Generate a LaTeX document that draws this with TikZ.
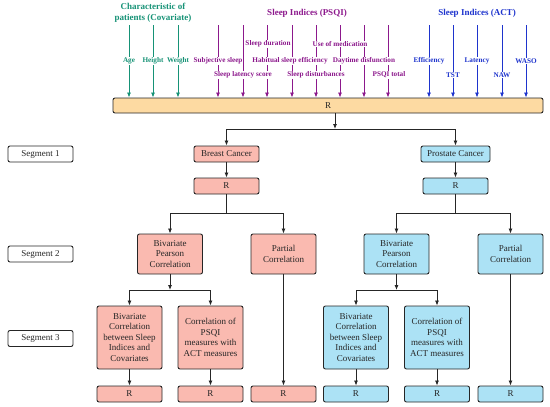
\documentclass[tikz,border=0pt]{standalone}
\usepackage{fontspec}
\setmainfont{Liberation Serif}
\usetikzlibrary{arrows.meta}
\definecolor{cgreen}{RGB}{22,146,118}
\definecolor{cpurple}{RGB}{140,24,140}
\definecolor{cblueT}{RGB}{30,52,205}
\definecolor{corange}{RGB}{253,218,162}
\definecolor{cpink}{RGB}{250,186,176}
\definecolor{cblue}{RGB}{172,226,245}
\begin{document}
\begin{tikzpicture}[x=1pt,y=-1pt,
 box/.style={draw=black!85, line width=0.9pt, rounded corners=2pt, align=center,
   font=\fontsize{9}{10.5}\selectfont, inner sep=1pt, text=black!85},
 pinkbox/.style={box, fill=cpink},
 bluebox/.style={box, fill=cblue},
 small/.style={minimum width=65pt, minimum height=16pt},
 mid/.style={minimum width=65pt, minimum height=40pt},
 tall/.style={minimum width=65pt, minimum height=63pt},
 seg/.style={box, fill=white, small},
 arr/.style={-{Latex[length=5pt,width=4pt]}, line width=0.8pt, draw=black!85},
 plain/.style={line width=0.8pt, draw=black!85},
 inarr/.style={-{Latex[length=5pt,width=4pt]}, line width=0.8pt},
 lab/.style={fill=white, inner sep=0.8pt, font=\fontsize{7.2}{8}\selectfont\bfseries},
 ttl/.style={align=center, font=\fontsize{9}{11}\selectfont\bfseries}
]
\useasboundingbox (0,0) rectangle (550,407);

% big R box
\node[box, fill=corange, minimum width=430pt, minimum height=15pt] (big) at (328,105.5) {R};

% titles
\node[ttl, text=cgreen] (tcov) at (153,12.5) {Characteristic of\\patients (Covariate)};
\node[ttl, text=cpurple] (tpsqi) at (307,13) {Sleep Indices (PSQI)};
\node[ttl, text=cblueT] (tact) at (477,13) {Sleep Indices (ACT)};

% input arrows
\foreach \x/\c in {129/cgreen,153/cgreen,178/cgreen,
  218/cpurple,243/cpurple,267/cpurple,292/cpurple,316/cpurple,340/cpurple,364/cpurple,388/cpurple,
  429/cblueT,453/cblueT,477/cblueT,502/cblueT,526/cblueT}{
  \coordinate (t\x) at (\x,25);
  \draw[inarr,\c] (t\x) -- (t\x |- big.north);
}

% input labels
\node[lab,text=cgreen] (lage) at (129,61) {Age};
\node[lab,text=cgreen] (lhei) at (153,61) {Height};
\node[lab,text=cgreen] (lwei) at (178,61) {Weight};

\node[lab,text=cpurple] (lsub) at (218,61) {Subjective sleep};
\node[lab,text=cpurple] (lhab) at (290,61) {Habitual sleep efficiency};
\node[lab,text=cpurple] (lday) at (364,61) {Daytime disfunction};
\node[lab,text=cpurple] (ldur) at (268,44) {Sleep duration};
\node[lab,text=cpurple] (lmed) at (340,44) {Use of medication};
\node[lab,text=cpurple] (llat) at (243,75) {Sleep latency score};
\node[lab,text=cpurple] (ldis) at (316,75) {Sleep disturbances};
\node[lab,text=cpurple] (ltot) at (389,75) {PSQI total};

\node[lab,text=cblueT] (leff) at (429,61) {Efficiency};
\node[lab,text=cblueT] (ltst) at (453,75) {TST};
\node[lab,text=cblueT] (llt) at (477,61) {Latency};
\node[lab,text=cblueT] (lnaw) at (502,75) {NAW};
\node[lab,text=cblueT] (lwas) at (526,61) {WASO};

% segments
\node[seg] (s1) at (40.5,154) {Segment 1};
\node[seg] (s2) at (40.5,254) {Segment 2};
\node[seg] (s3) at (40.5,338.5) {Segment 3};

% segment 1
\node[pinkbox, small] (bc) at (226.5,154) {Breast Cancer};
\node[pinkbox, small] (rb) at (226.5,186) {R};
\node[bluebox, small, minimum width=69pt] (pc) at (455.5,154) {Prostate Cancer};
\node[bluebox, small] (rp) at (455.5,186) {R};

% segment 2
\node[pinkbox, mid] (bbiv) at (170,254) {Bivariate\\Pearson\\Correlation};
\node[pinkbox, mid] (bpar) at (283.5,254) {Partial\\Correlation};
\node[bluebox, mid] (pbiv) at (396.5,254) {Bivariate\\Pearson\\Correlation};
\node[bluebox, mid] (ppar) at (510.5,254) {Partial\\Correlation};

% segment 3
\node[pinkbox, tall] (bcov) at (129.5,337.5) {Bivariate\\Correlation\\between Sleep\\Indices and\\Covariates};
\node[pinkbox, tall] (bact) at (210.5,337.5) {Correlation of\\PSQI\\measures with\\ACT measures};
\node[bluebox, tall] (pcov) at (356,337.5) {Bivariate\\Correlation\\between Sleep\\Indices and\\Covariates};
\node[bluebox, tall] (pact) at (437,337.5) {Correlation of\\PSQI\\measures with\\ACT measures};

% bottom R
\node[pinkbox, small] (r1) at (129.5,394) {R};
\node[pinkbox, small] (r2) at (210.5,394) {R};
\node[pinkbox, small] (r3) at (283.5,394) {R};
\node[bluebox, small] (r4) at (356,394) {R};
\node[bluebox, small] (r5) at (437,394) {R};
\node[bluebox, small] (r6) at (510.5,394) {R};

% connectors
\coordinate (j1) at (335,129);
\draw[arr] (big.south -| j1) -- (j1);
\draw[arr] (j1) -| (bc.north);
\draw[arr] (j1) -| (pc.north);

\draw[arr] (bc) -- (rb);
\draw[arr] (pc) -- (rp);

\coordinate (j2) at (226.5,213);
\draw[plain] (rb.south) -- (j2);
\draw[arr] (j2) -| (bbiv.north);
\draw[arr] (j2) -| (bpar.north);

\coordinate (j3) at (455.5,213);
\draw[plain] (rp.south) -- (j3);
\draw[arr] (j3) -| (pbiv.north);
\draw[arr] (j3) -| (ppar.north);

\coordinate (j4) at (170,290);
\draw[arr] (bbiv.south) -- (j4);
\draw[arr] (j4) -| (bcov.north);
\draw[arr] (j4) -| (bact.north);

\coordinate (j5) at (396.5,290);
\draw[arr] (pbiv.south) -- (j5);
\draw[arr] (j5) -| (pcov.north);
\draw[arr] (j5) -| (pact.north);

\draw[arr] (bcov) -- (r1);
\draw[arr] (bact) -- (r2);
\draw[arr] (bpar) -- (r3);
\draw[arr] (pcov) -- (r4);
\draw[arr] (pact) -- (r5);
\draw[arr] (ppar) -- (r6);
\end{tikzpicture}
\end{document}
